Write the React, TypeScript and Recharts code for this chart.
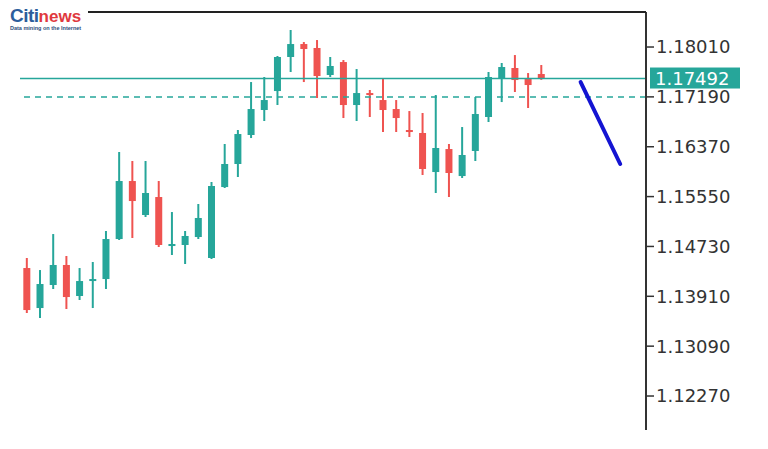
import React from 'react';
import { ComposedChart, Bar, Line, XAxis, YAxis, ReferenceLine } from 'recharts';

// EURUSD-style candles
const opens = [1.14375, 1.13717, 1.14096, 1.14425, 1.13915, 1.14161, 1.14194, 1.14852, 1.15806, 1.15247, 1.15543, 1.14737, 1.14754, 1.14885, 1.14540, 1.15707, 1.16086, 1.16563, 1.16974, 1.17286, 1.17846, 1.18059, 1.17994, 1.17550, 1.17763, 1.17056, 1.17253, 1.17138, 1.16990, 1.16645, 1.16596, 1.15954, 1.16332, 1.15888, 1.16300, 1.16859, 1.17500, 1.17665, 1.17484, 1.17566];
const highs = [1.14540, 1.14342, 1.14934, 1.14573, 1.14375, 1.14474, 1.14984, 1.16283, 1.16135, 1.16135, 1.15806, 1.15296, 1.14984, 1.15428, 1.15790, 1.16415, 1.16645, 1.17434, 1.17517, 1.17862, 1.18290, 1.18092, 1.18125, 1.17846, 1.17796, 1.17648, 1.17303, 1.17484, 1.17138, 1.16957, 1.16925, 1.17221, 1.16415, 1.16694, 1.17188, 1.17599, 1.17747, 1.17878, 1.17582, 1.17714];
const lows = [1.13635, 1.13553, 1.14030, 1.13701, 1.13849, 1.13717, 1.14030, 1.14836, 1.14869, 1.15214, 1.14721, 1.14589, 1.14441, 1.14852, 1.14523, 1.15691, 1.15872, 1.16513, 1.16793, 1.17056, 1.17599, 1.17434, 1.17171, 1.17517, 1.16842, 1.16793, 1.16859, 1.16612, 1.16612, 1.16530, 1.15905, 1.15609, 1.15543, 1.15856, 1.16135, 1.16777, 1.17105, 1.17270, 1.17007, 1.17470];
const closes = [1.13684, 1.14112, 1.14425, 1.13898, 1.14161, 1.14194, 1.14852, 1.15806, 1.15477, 1.15609, 1.14754, 1.14770, 1.14902, 1.15198, 1.15724, 1.16086, 1.16579, 1.16990, 1.17138, 1.17846, 1.18059, 1.17977, 1.17533, 1.17698, 1.17056, 1.17253, 1.17221, 1.16974, 1.16842, 1.16612, 1.16004, 1.16349, 1.15938, 1.16234, 1.16908, 1.17517, 1.17681, 1.17467, 1.17385, 1.17492];

// forecast arrow (blue), start and end slots
const forecastSlots = [42, 45];
const forecastValues = [1.17434, 1.16086];

const totalSlots = 47;
const priceTicks = [1.1227, 1.1309, 1.1391, 1.1473, 1.1555, 1.1637, 1.1719, 1.1801];
const currentPrice = 1.17492;
const dashedLevel = 1.1719;

const UP = '#26a69a';
const DOWN = '#ef5350';

const data = Array.from({ length: totalSlots }, (_, i) => {
  const row: any = { i };
  if (i < opens.length) {
    row.open = opens[i];
    row.close = closes[i];
    row.high = highs[i];
    row.low = lows[i];
    row.range = [lows[i], highs[i]];
  }
  const k = forecastSlots.indexOf(i);
  row.blue = k >= 0 ? forecastValues[k] : null;
  return row;
});

const Candle = (props: any) => {
  const { x, y, width, height, payload } = props;
  if (!payload || payload.open == null) return null;
  const { open, close, high, low } = payload;
  const top = Math.min(y, y + height);
  const bottom = Math.max(y, y + height);
  const toPx = (v: number) => top + ((high - v) / (high - low || 1)) * (bottom - top);
  const cx = x + width / 2;
  const color = close >= open ? UP : DOWN;
  const bTop = toPx(Math.max(open, close));
  const bBot = toPx(Math.min(open, close));
  const bw = 7;
  return (
    <g>
      <line x1={cx} x2={cx} y1={top} y2={bottom} stroke={color} strokeWidth={2} />
      <rect x={cx - bw / 2} y={bTop} width={bw} height={Math.max(bBot - bTop, 2)} fill={color} />
    </g>
  );
};

const PriceTag = (props: any) => {
  const vb = props.viewBox;
  if (!vb) return null;
  const x0 = vb.x + vb.width + 4;
  return (
    <g>
      <rect x={x0} y={vb.y - 11} width={90} height={21} fill={UP} />
      <text x={x0 + 5} y={vb.y} dy="0.36em" fill="#fff" fontSize={18} fontFamily="DejaVu Sans">
        {currentPrice.toFixed(5)}
      </text>
    </g>
  );
};

export default function App() {
  return (
    <div style={{ position: 'absolute', left: 0, top: 0, width: 768, height: 449, background: '#fff' }}>
      <ComposedChart width={768} height={449} data={data} margin={{ top: 12, right: 0, bottom: 19, left: 20 }}>
        <XAxis dataKey="i" type="category" hide padding={{ left: 0, right: 6 }} />
        <YAxis
          orientation="right"
          width={122}
          domain={[1.11711, 1.18586]}
          allowDataOverflow
          ticks={priceTicks}
          tickFormatter={(v: number) => v.toFixed(5)}
          axisLine={{ stroke: '#333', strokeWidth: 2 }}
          tickLine={{ stroke: '#333', strokeWidth: 1.5 }}
          tickSize={8}
          tickMargin={2}
          tick={{ fill: '#333', fontSize: 18, fontFamily: 'DejaVu Sans' }}
        />
        <ReferenceLine y={dashedLevel} stroke={UP} strokeWidth={1.5} strokeDasharray="6 5" />
        <ReferenceLine y={currentPrice} stroke={UP} strokeWidth={1.5} label={<PriceTag />} />
        <Bar dataKey="range" shape={<Candle />} isAnimationActive={false} />
        <Line
          dataKey="blue"
          stroke="#1414d2"
          strokeWidth={4}
          dot={false}
          connectNulls
          strokeLinecap="round"
          isAnimationActive={false}
        />
      </ComposedChart>
      <div style={{ position: 'absolute', left: 88, top: 11, width: 558, height: 2, background: '#222' }} />
      <div style={{ position: 'absolute', left: 10, top: 6, lineHeight: 1, fontFamily: 'Liberation Sans, Arial, sans-serif' }}>
        <span style={{ color: '#2c5e9c', fontSize: 19, fontWeight: 700, letterSpacing: -0.5 }}>Citi</span>
        <span style={{ color: '#e0393e', fontSize: 17, fontWeight: 700 }}>news</span>
        <div style={{ color: '#2c4f7c', fontSize: 5.5, fontWeight: 700, marginTop: 1, whiteSpace: 'nowrap' }}>
          Data mining on the Internet
        </div>
      </div>
    </div>
  );
}
